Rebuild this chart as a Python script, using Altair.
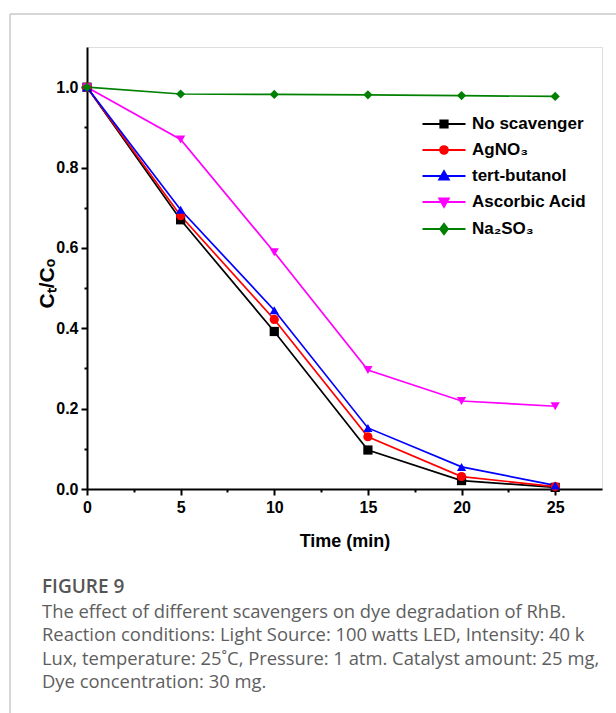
import altair as alt
import pandas as pd

# ---- data ----
times = [0, 5, 10, 15, 20, 25]
series_names = ["No scavenger", "AgNO₃", "tert-butanol", "Ascorbic Acid", "Na₂SO₃"]
no_scavenger = [1.0, 0.670, 0.392, 0.097, 0.021, 0.004]
agno3 = [1.0, 0.680, 0.422, 0.130, 0.031, 0.006]
tert_butanol = [1.0, 0.695, 0.445, 0.152, 0.055, 0.009]
ascorbic_acid = [1.0, 0.870, 0.589, 0.296, 0.219, 0.206]
na2so3 = [1.0, 0.983, 0.982, 0.981, 0.979, 0.977]

series_colors = ["#000000", "#ff0000", "#0000ff", "#ff00ff", "#008000"]
marker_shapes = ["square", "circle", "triangle-up", "triangle-down", "diamond"]
legend_shapes = [
    "M-2.5,0H2.5M-0.42,-0.42H0.42V0.42H-0.42Z",
    "M-2.5,0H2.5M-0.45,0A0.45,0.45 0 1,0 0.45,0A0.45,0.45 0 1,0 -0.45,0Z",
    "M-2.5,0H2.5M0,-0.55L0.55,0.42H-0.55Z",
    "M-2.5,0H2.5M0,0.55L0.55,-0.42H-0.55Z",
    "M-2.5,0H2.5M0,-0.6L0.45,0L0,0.6L-0.45,0Z",
]

x_tick_values = [0, 2.5, 5, 7.5, 10, 12.5, 15, 17.5, 20, 22.5, 25]
y_tick_values = [0.0, 0.1, 0.2, 0.3, 0.4, 0.5, 0.6, 0.7, 0.8, 0.9, 1.0]

caption_title = "FIGURE 9"
caption_lines = [
    "The effect of different scavengers on dye degradation of RhB.",
    "Reaction conditions: Light Source: 100 watts LED, Intensity: 40 k",
    "Lux, temperature: 25˚C, Pressure: 1 atm. Catalyst amount: 25 mg,",
    "Dye concentration: 30 mg.",
]

all_values = [no_scavenger, agno3, tert_butanol, ascorbic_acid, na2so3]
rows = []
for si, (name, vals) in enumerate(zip(series_names, all_values)):
    for t, v in zip(times, vals):
        rows.append({"time": t, "ratio": v, "series": name, "order": si})
df = pd.DataFrame(rows)

AX_FONT = "Liberation Sans"

x_enc = alt.X(
    "time:Q",
    scale=alt.Scale(domain=[0, 27.5], nice=False, zero=False),
    axis=alt.Axis(
        values=x_tick_values,
        labelExpr="datum.value % 5 === 0 ? format(datum.value, 'd') : ''",
        title="Time (min)",
        grid=False,
        domainColor="black",
        domainWidth=2,
        tickColor="black",
        tickWidth=2,
        tickSize={"condition": {"test": "datum.value % 5 === 0", "value": 6}, "value": 3},
        labelFont=AX_FONT,
        labelFontSize=16,
        labelFontWeight="bold",
        labelColor="black",
        labelPadding=4,
        labelFlush=False,
        titleFont=AX_FONT,
        titleFontSize=18,
        titleFontWeight="bold",
        titleColor="black",
        titlePadding=17,
    ),
)
y_enc = alt.Y(
    "ratio:Q",
    scale=alt.Scale(domain=[0, 1.1], nice=False),
    axis=alt.Axis(
        values=y_tick_values,
        labelExpr="round(datum.value * 10) % 2 === 0 ? format(datum.value, '.1f') : ''",
        title="Cₜ/Cₒ",
        grid=False,
        domainColor="black",
        domainWidth=2,
        tickColor="black",
        tickWidth=2,
        tickSize={"condition": {"test": "round(datum.value * 10) % 2 === 0", "value": 6}, "value": 3},
        labelFont=AX_FONT,
        labelFontSize=16,
        labelFontWeight="bold",
        labelColor="black",
        labelPadding=3,
        labelFlush=False,
        titleFont=AX_FONT,
        titleFontSize=21,
        titleFontWeight="bold",
        titleColor="black",
        titleAngle=-90,
        titleX=-34,
        titleY=236,
        titleAlign="center",
        titleBaseline="alphabetic",
    ),
)

color_scale = alt.Scale(domain=series_names, range=series_colors)
base = alt.Chart(df)

lines = base.mark_line(strokeWidth=1.7).encode(
    x=x_enc,
    y=y_enc,
    color=alt.Color("series:N", scale=color_scale, legend=None),
    detail="series:N",
)

points = base.mark_point(filled=True, size=85, opacity=1).encode(
    x=x_enc,
    y=y_enc,
    color=alt.Color("series:N", scale=color_scale, legend=None),
    shape=alt.Shape("series:N", scale=alt.Scale(domain=series_names, range=marker_shapes), legend=None),
)

legend_def = alt.Legend(
    title=None,
    orient="none",
    legendX=347,
    legendY=67,
    padding=0,
    symbolSize=296,
    symbolStrokeWidth=2,
    symbolOpacity=1,
    labelFont=AX_FONT,
    labelFontSize=17,
    labelFontWeight="bold",
    labelColor="black",
    labelOffset=18,
    rowPadding=8,
)

legend_layer = base.transform_filter("datum.time < 0").mark_point(filled=True, size=296, strokeWidth=2).encode(
    x=x_enc,
    y=y_enc,
    fill=alt.Fill("series:N", scale=alt.Scale(domain=series_names, range=series_colors), legend=legend_def),
    stroke=alt.Stroke("series:N", scale=alt.Scale(domain=series_names, range=series_colors), legend=legend_def),
    shape=alt.Shape("series:N", scale=alt.Scale(domain=series_names, range=legend_shapes), legend=legend_def),
)

frame_data = alt.Data(values=[{"k": 1}])
border_left = alt.Chart(frame_data).mark_rule(color="#c8c8c8", strokeWidth=1.5).encode(
    x=alt.value(-77), y=alt.value(-33), y2=alt.value(666)
)
border_top = alt.Chart(frame_data).mark_rule(color="#c8c8c8", strokeWidth=1.5).encode(
    x=alt.value(-77), x2=alt.value(529), y=alt.value(-33)
)

chart = (
    alt.layer(border_left, border_top, lines, points, legend_layer)
    .resolve_scale(shape="independent", fill="independent", stroke="independent")
    .properties(
        width=515,
        height=442,
        autosize="none",
        padding={"left": 87, "top": 47, "right": 14, "bottom": 224},
        title=alt.TitleParams(
            text=caption_title,
            subtitle=caption_lines,
            orient="bottom",
            anchor="start",
            frame="group",
            dx=-45,
            offset=-136,
            font="Open Sans",
            fontSize=19,
            fontWeight=600,
            color="#555555",
            subtitleFont="Open Sans",
            subtitleFontSize=18.4,
            subtitleFontWeight=400,
            subtitleColor="#5e5e5e",
            subtitleLineHeight=23.5,
            subtitlePadding=6,
        ),
    )
    .configure_view(stroke="black", strokeWidth=2)
    .configure(background="white")
)

chart.save("out.html", embed_options={"renderer": "svg", "actions": False})
